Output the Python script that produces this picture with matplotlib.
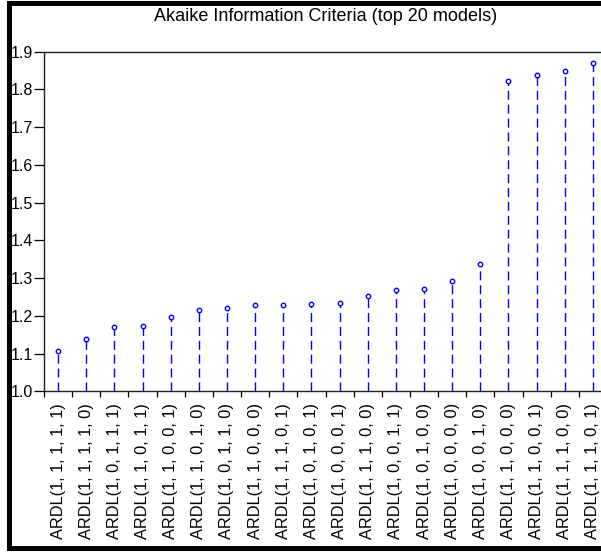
import matplotlib
matplotlib.use("Agg")
import matplotlib.pyplot as plt
from matplotlib.patches import Rectangle

models = [
    "ARDL(1, 1, 1, 1, 1)", "ARDL(1, 1, 1, 1, 0)", "ARDL(1, 0, 1, 1, 1)",
    "ARDL(1, 1, 0, 1, 1)", "ARDL(1, 1, 0, 0, 1)", "ARDL(1, 1, 0, 1, 0)",
    "ARDL(1, 0, 1, 1, 0)", "ARDL(1, 1, 0, 0, 0)", "ARDL(1, 1, 1, 0, 1)",
    "ARDL(1, 0, 1, 0, 1)", "ARDL(1, 0, 0, 0, 1)", "ARDL(1, 1, 1, 0, 0)",
    "ARDL(1, 0, 0, 1, 1)", "ARDL(1, 0, 1, 0, 0)", "ARDL(1, 0, 0, 0, 0)",
    "ARDL(1, 0, 0, 1, 0)", "ARDL(1, 1, 0, 0, 0)", "ARDL(1, 1, 0, 0, 1)",
    "ARDL(1, 1, 1, 0, 0)", "ARDL(1, 1, 1, 0, 1)",
]
aic = [1.107, 1.139, 1.170, 1.173, 1.198, 1.215, 1.222, 1.229, 1.229, 1.232,
       1.235, 1.253, 1.269, 1.272, 1.292, 1.337, 1.823, 1.838, 1.848, 1.871]
yticks = [1.0, 1.1, 1.2, 1.3, 1.4, 1.5, 1.6, 1.7, 1.8, 1.9]

plt.rcParams['font.family'] = ['Liberation Sans', 'DejaVu Sans']
plt.rcParams['lines.scale_dashes'] = False

W, H = 601, 554
fig = plt.figure(figsize=(W / 100, H / 100), dpi=100)
# axes runs a bit past the right edge, like the cropped original
ax = fig.add_axes([44 / W, (H - 391.3) / H, (607 - 44) / W, (391.3 - 51.7) / H])

x = list(range(len(models)))
ax.vlines(x, 1.0, aic, colors='#0000ff', linewidth=1.0, linestyles=(0, (6.5, 3.5)))
ax.plot(x, aic, linestyle='none', marker='o', markersize=3.2,
        markerfacecolor='white', markeredgecolor='#0000ff', markeredgewidth=1.0)

ax.set_xlim(-0.5, len(models) - 0.5)
ax.set_ylim(1.0, 1.9)
ax.set_yticks(yticks)
ax.set_yticklabels([f"{v:.1f}" for v in yticks], fontsize=11.5)
ax.tick_params(axis='y', direction='out', length=7, pad=1, width=0.9)

ax.set_xticks([i - 0.5 for i in range(len(models) + 1)])
ax.set_xticklabels([])
ax.set_xticks(x, minor=True)
ax.set_xticklabels(models, minor=True, rotation=90, fontsize=11.8, va='top')
ax.tick_params(axis='x', which='major', direction='out', length=4.3, width=0.9)
ax.tick_params(axis='x', which='minor', length=0, pad=8.5)

for s in ax.spines.values():
    s.set_linewidth(1.0)
    s.set_color('#222222')

fig.text((44 + 607) / 2 / W, 1 - 16.5 / H, "Akaike Information Criteria (top 20 models)",
         fontsize=13, ha='center', va='center')

# black frame pieces of the original screenshot
def band(x0, y0, x1, y1):
    fig.add_artist(Rectangle((x0 / W, 1 - y1 / H), (x1 - x0) / W, (y1 - y0) / H,
                             transform=fig.transFigure, color='black', lw=0))

band(7, 1, 12, 551)
band(7, 1, W, 6)
band(7, 546, W, 551)

fig.savefig("out.png", dpi=100)
